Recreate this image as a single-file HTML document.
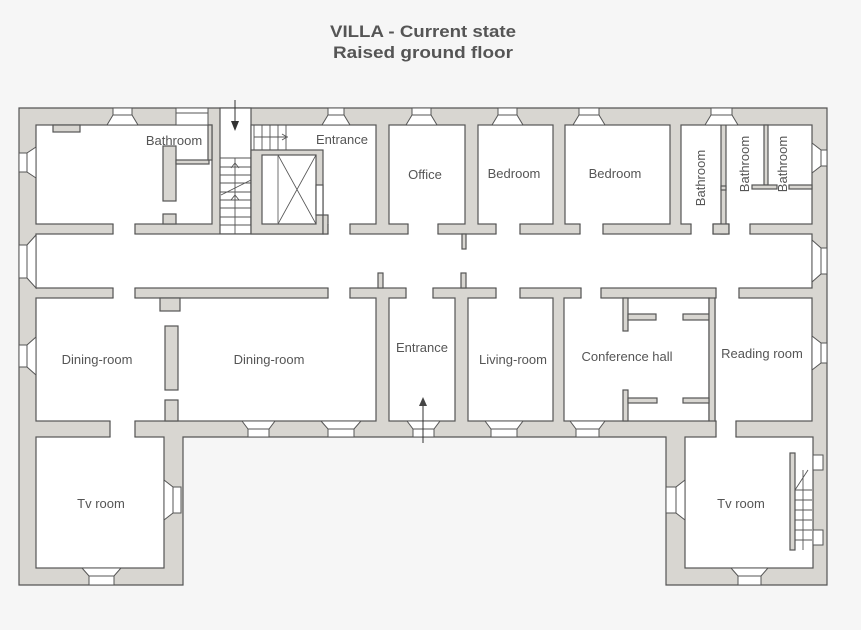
<!DOCTYPE html>
<html><head><meta charset="utf-8"><style>
html,body{margin:0;padding:0;background:#f6f6f6;width:861px;height:630px;overflow:hidden}
svg{display:block}
text{font-family:"Liberation Sans",sans-serif;fill:#555}
</style></head><body>
<svg width="861" height="630" viewBox="0 0 861 630" xmlns="http://www.w3.org/2000/svg">
<rect width="861" height="630" fill="#f6f6f6"/>
<text x="423" y="37" font-size="17" font-weight="bold" text-anchor="middle" textLength="186" lengthAdjust="spacingAndGlyphs">VILLA - Current state</text>
<text x="423" y="58" font-size="17" font-weight="bold" text-anchor="middle" textLength="180" lengthAdjust="spacingAndGlyphs">Raised ground floor</text>

<g stroke="#555" stroke-width="1.2">
<polygon points="19,108 827,108 827,585 666,585 666,437 183,437 183,585 19,585" fill="#d8d6d1"/>
<g fill="#fff">
<!-- top row -->
<rect x="36" y="125" width="176" height="99"/>
<rect x="220" y="108" width="31" height="126"/>
<rect x="251" y="125" width="125" height="99"/>
<rect x="389" y="125" width="76" height="99"/>
<rect x="478" y="125" width="75" height="99"/>
<rect x="565" y="125" width="105" height="99"/>
<rect x="681" y="125" width="131" height="99"/>
<!-- corridor -->
<rect x="36" y="234" width="776" height="54"/>
<!-- lower row -->
<rect x="36" y="298" width="340" height="123"/>
<rect x="389" y="298" width="66" height="123"/>
<rect x="468" y="298" width="85" height="123"/>
<rect x="564" y="298" width="145" height="123"/>
<rect x="715" y="298" width="97" height="123"/>
<!-- wings -->
<rect x="36" y="437" width="128" height="131"/>
<rect x="685" y="437" width="128" height="131"/>
</g>
<!-- internal walls gray -->
<g fill="#d8d6d1">
<rect x="53" y="125" width="27" height="7"/>
<rect x="163" y="146" width="13" height="55"/>
<rect x="163" y="214" width="13" height="10"/>
<rect x="176" y="160" width="33" height="4"/>
<rect x="208" y="125" width="4" height="35"/>
<rect x="251" y="150" width="72" height="84"/>
<rect x="323" y="215" width="5" height="19"/>
<rect x="721" y="125" width="5" height="109"/>
<rect x="713" y="224" width="16" height="10"/>
<rect x="721" y="186" width="5" height="4"/>
<rect x="764" y="125" width="4" height="60"/>
<rect x="752" y="185" width="25" height="4"/>
<rect x="789" y="185" width="23" height="4"/>
<rect x="160" y="298" width="20" height="13"/>
<rect x="165" y="326" width="13" height="64"/>
<rect x="165" y="400" width="13" height="21"/>
<rect x="623" y="298" width="5" height="33"/>
<rect x="628" y="314" width="28" height="6"/>
<rect x="683" y="314" width="26" height="6"/>
<rect x="709" y="298" width="6" height="123"/>
<rect x="623" y="390" width="5" height="31"/>
<rect x="628" y="398" width="29" height="5"/>
<rect x="683" y="398" width="26" height="5"/>
<rect x="462" y="234" width="4" height="15"/>
<rect x="378" y="273" width="5" height="15"/>
<rect x="461" y="273" width="5" height="15"/>
<rect x="790" y="453" width="5" height="97"/>
</g>
<!-- elevator shaft -->
<rect x="262" y="155" width="54" height="69" fill="#fff"/>
<line x1="278" y1="155" x2="278" y2="224" stroke="#888"/>
<line x1="278" y1="155" x2="316" y2="224" stroke-width="0.8"/>
<line x1="316" y1="155" x2="278" y2="224" stroke-width="0.8"/>
<rect x="316" y="185" width="7" height="30" fill="#fff"/>
</g>

<!-- door openings -->
<g fill="#fff">
<rect x="113.6" y="223" width="20.8" height="12"/>
<rect x="328.6" y="223" width="20.8" height="12"/>
<rect x="408.6" y="223" width="28.8" height="12"/>
<rect x="496.6" y="223" width="22.8" height="12"/>
<rect x="580.6" y="223" width="21.8" height="12"/>
<rect x="691.6" y="223" width="20.8" height="12"/>
<rect x="729.6" y="223" width="19.8" height="12"/>
<rect x="113.6" y="287" width="20.8" height="12"/>
<rect x="328.6" y="287" width="20.8" height="12"/>
<rect x="406.6" y="287" width="25.8" height="12"/>
<rect x="496.6" y="287" width="22.8" height="12"/>
<rect x="581.6" y="287" width="18.8" height="12"/>
<rect x="716.6" y="287" width="21.8" height="12"/>
<rect x="110.6" y="420" width="23.8" height="18"/>
<rect x="716.6" y="420" width="18.8" height="18"/>
</g>
<g stroke="#555" stroke-width="1.2">
<path d="M113 224V234M135 224V234M328 224V234M350 224V234M408 224V234M438 224V234M496 224V234M520 224V234M580 224V234M603 224V234M691 224V234M713 224V234M729 224V234M750 224V234"/>
<path d="M113 288V298M135 288V298M328 288V298M350 288V298M406 288V298M433 288V298M496 288V298M520 288V298M581 288V298M601 288V298M716 288V298M739 288V298"/>
<path d="M110 421V437M135 421V437M716 421V437M736 421V437"/>
</g>

<!-- windows -->
<g fill="#fff" stroke="#555" stroke-width="1">
<!-- top -->
<polygon points="107,125 113,115 132,115 138,125"/><rect x="113" y="108" width="19" height="7"/>
<polygon points="322,125 328,115 344,115 350,125"/><rect x="328" y="108" width="16" height="7"/>
<polygon points="406,125 412,115 431,115 437,125"/><rect x="412" y="108" width="19" height="7"/>
<polygon points="492,125 498,115 517,115 523,125"/><rect x="498" y="108" width="19" height="7"/>
<polygon points="573,125 579,115 599,115 605,125"/><rect x="579" y="108" width="20" height="7"/>
<polygon points="705,125 711,115 732,115 738,125"/><rect x="711" y="108" width="21" height="7"/>
<rect x="176" y="108" width="32" height="17"/><line x1="176" y1="113" x2="208" y2="113"/>
<!-- left outer -->
<polygon points="36,147 27,153 27,172 36,178"/><rect x="19" y="153" width="8" height="19"/>
<polygon points="36,235 27,245 27,278 36,288"/><rect x="19" y="245" width="8" height="33"/>
<polygon points="36,337 27,345 27,367 36,375"/><rect x="19" y="345" width="8" height="22"/>
<!-- right outer -->
<polygon points="812,143 821,150 821,166 812,173"/><rect x="821" y="150" width="6" height="16"/>
<polygon points="812,240 821,248 821,274 812,282"/><rect x="821" y="248" width="6" height="26"/>
<polygon points="812,336 821,343 821,363 812,370"/><rect x="821" y="343" width="6" height="20"/>
<!-- bottom main -->
<polygon points="242,421 248,429 269,429 275,421"/><rect x="248" y="429" width="21" height="8"/>
<polygon points="321,421 328,429 354,429 361,421"/><rect x="328" y="429" width="26" height="8"/>
<polygon points="407,421 413,429 434,429 440,421"/><rect x="413" y="429" width="21" height="8"/>
<polygon points="485,421 491,429 517,429 523,421"/><rect x="491" y="429" width="26" height="8"/>
<polygon points="570,421 576,429 599,429 605,421"/><rect x="576" y="429" width="23" height="8"/>
<!-- wings -->
<polygon points="164,480 173,487 173,513 164,520"/><rect x="173" y="487" width="8" height="26"/>
<polygon points="685,480 676,487 676,513 685,520"/><rect x="666" y="487" width="10" height="26"/>
<polygon points="82,568 89,576 114,576 121,568"/><rect x="89" y="576" width="25" height="9"/>
<polygon points="731,568 738,576 761,576 768,568"/><rect x="738" y="576" width="23" height="9"/>
<rect x="813" y="455" width="10" height="15"/><rect x="813" y="530" width="10" height="15"/>
</g>

<!-- stairs -->
<g stroke="#555" stroke-width="0.9" fill="none">
<path d="M220 158H251M220 167H251M220 175H251M220 183H251M220 192H251M220 200H251M220 208H251M220 217H251M220 225H251"/>
<line x1="235" y1="158" x2="235" y2="234"/>
<line x1="221" y1="195" x2="251" y2="180"/>
<path d="M231 168L235 163L239 168M231 200L235 195L239 200"/>
<path d="M254 125V150M262 125V150M270 125V150M278 125V150M286 125V150M254 137H288"/>
<path d="M282 134L287 137L282 140"/>
<path d="M795 490H812M795 500H812M795 510H812M795 520H812M795 530H812M795 540H812M803 470V550M795 490L808 470"/>
</g>

<!-- arrows -->
<g stroke="#333" stroke-width="1">
<line x1="235" y1="100" x2="235" y2="124"/>
<line x1="423" y1="443" x2="423" y2="404"/>
</g>
<polygon points="231,121 239,121 235,131" fill="#333"/>
<polygon points="419,406 427,406 423,397" fill="#444"/>

<g font-size="13" text-anchor="middle">
<text x="174" y="145">Bathroom</text>
<text x="342" y="144">Entrance</text>
<text x="425" y="179">Office</text>
<text x="514" y="178">Bedroom</text>
<text x="615" y="178">Bedroom</text>
<text transform="translate(705,178) rotate(-90)">Bathroom</text>
<text transform="translate(749,164) rotate(-90)">Bathroom</text>
<text transform="translate(787,164) rotate(-90)">Bathroom</text>
<text x="97" y="364">Dining-room</text>
<text x="269" y="364">Dining-room</text>
<text x="422" y="352">Entrance</text>
<text x="513" y="364">Living-room</text>
<text x="627" y="361">Conference hall</text>
<text x="762" y="358">Reading room</text>
<text x="101" y="508">Tv room</text>
<text x="741" y="508">Tv room</text>
</g>
</svg>
</body></html>
